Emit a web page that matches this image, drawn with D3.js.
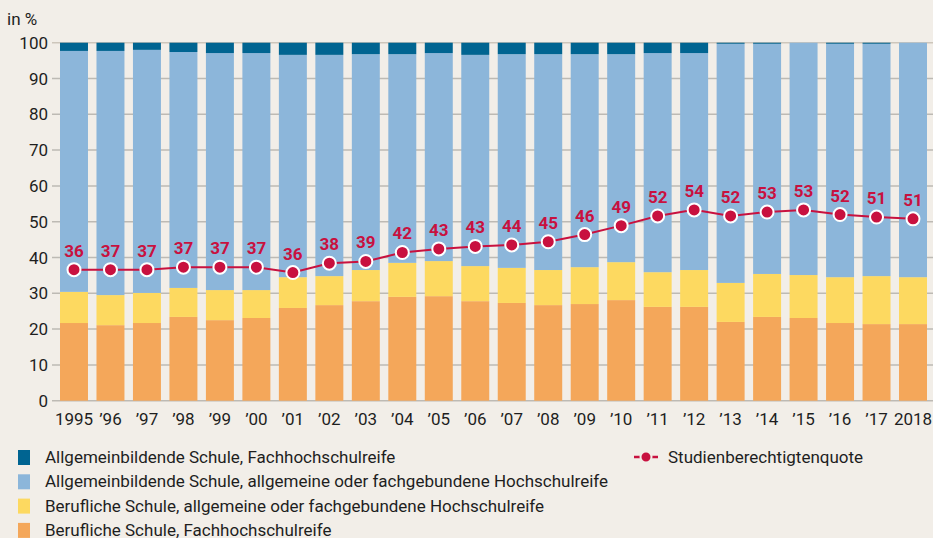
<!DOCTYPE html>
<html>
<head>
<meta charset="utf-8">
<script src="https://cdn.jsdelivr.net/npm/d3@7"></script>
<style>
  html, body { margin: 0; padding: 0; background: #f2eee8; }
  svg { display: block; font-family: Roboto, "Noto Sans", sans-serif; }
</style>
</head>
<body>
<div id="chart"></div>
<script>
// tick labels along the x axis
var years = ["1995", "\u201996", "\u201997", "\u201998", "\u201999", "\u201900", "\u201901", "\u201902",
	"\u201903", "\u201904", "\u201905", "\u201906", "\u201907", "\u201908", "\u201909", "\u201910",
	"\u201911", "\u201912", "\u201913", "\u201914", "\u201915", "\u201916", "\u201917", "2018"];

// shares in %, bottom of the stack first
var berufFhr = [21.7, 21.1, 21.7, 23.4, 22.5, 23.1, 25.9, 26.7, 27.8, 29.0, 29.2, 27.8,
	27.3, 26.7, 27.0, 28.1, 26.2, 26.2, 22.0, 23.4, 23.1, 21.7, 21.4, 21.4];
var berufAhr = [8.7, 8.4, 8.4, 8.1, 8.4, 7.8, 8.6, 8.1, 8.7, 9.5, 9.8, 9.8,
	9.8, 9.8, 10.3, 10.6, 9.7, 10.3, 10.9, 12.0, 12.0, 12.8, 13.4, 13.1];
var allgAhr = [67.3, 68.2, 67.9, 65.9, 66.2, 66.2, 62.1, 61.8, 60.3, 58.3, 58.1, 59.0,
	59.7, 60.3, 59.5, 58.1, 61.2, 60.6, 66.8, 64.3, 64.9, 65.2, 64.9, 65.5];
var allgFhr = [2.3, 2.3, 2.0, 2.6, 2.9, 2.9, 3.4, 3.4, 3.2, 3.2, 2.9, 3.4,
	3.2, 3.2, 3.2, 3.2, 2.9, 2.9, 0.3, 0.3, 0, 0.3, 0.3, 0];

// Studienberechtigtenquote: dot position and printed label
var quote = [36.6, 36.6, 36.6, 37.3, 37.3, 37.3, 35.8, 38.4, 38.9, 41.4, 42.4, 43.1,
	43.5, 44.4, 46.4, 48.9, 51.6, 53.3, 51.6, 52.7, 53.3, 52.0, 51.3, 50.8];
var quoteLabels = [36, 37, 37, 37, 37, 37, 36, 38, 39, 42, 43, 43,
	44, 45, 46, 49, 52, 54, 52, 53, 53, 52, 51, 51];

var yTicks = [0, 10, 20, 30, 40, 50, 60, 70, 80, 90, 100];

var legendNames = [
	"Allgemeinbildende Schule, Fachhochschulreife",
	"Allgemeinbildende Schule, allgemeine oder fachgebundene Hochschulreife",
	"Berufliche Schule, allgemeine oder fachgebundene Hochschulreife",
	"Berufliche Schule, Fachhochschulreife"
];
var lineName = "Studienberechtigtenquote";

var w = 933, h = 538;
var keys = ["berufFhr", "berufAhr", "allgAhr", "allgFhr"];
var colors = {berufFhr: "#f4a75a", berufAhr: "#fdd960", allgAhr: "#8cb6da", allgFhr: "#006491"};
var red = "#c8113f";

var svg = d3.select("#chart").append("svg")
	.attr("width", w)
	.attr("height", h);

svg.append("rect").attr("width", w).attr("height", h).attr("fill", "#f2eee8");

var x = d3.scaleBand().domain(years).range([60, 927]).paddingInner(0.233).paddingOuter(0);
var y = d3.scaleLinear().domain([0, 100]).range([400.7, 42.7]);

// rows for the stack
var rows = years.map(function(yr, i) {
	return {year: yr, berufFhr: berufFhr[i], berufAhr: berufAhr[i], allgAhr: allgAhr[i], allgFhr: allgFhr[i]};
});
var series = d3.stack().keys(keys)(rows);

// grid lines behind the bars
svg.append("g").selectAll("line")
	.data(yTicks)
	.enter().append("line")
	.attr("x1", 52).attr("x2", w)
	.attr("y1", function(d) { return y(d); })
	.attr("y2", function(d) { return y(d); })
	.attr("stroke", function(d) { return d == 100 ? "#cdc6bb" : "#bdbab4"; })
	.attr("stroke-width", 1.5);

// y labels
svg.append("g").selectAll("text")
	.data(yTicks)
	.enter().append("text")
	.attr("x", 48)
	.attr("y", function(d) { return y(d) + 6; })
	.attr("text-anchor", "end")
	.attr("font-size", 17)
	.attr("fill", "#1e1e1e")
	.text(function(d) { return d; });

svg.append("text")
	.attr("x", 7).attr("y", 25)
	.attr("font-size", 17)
	.attr("fill", "#1e1e1e")
	.text("in %");

// stacked bars
svg.append("g").selectAll("g")
	.data(series)
	.enter().append("g")
	.attr("fill", function(d) { return colors[d.key]; })
	.selectAll("rect")
	.data(function(d) { return d; })
	.enter().append("rect")
	.attr("x", function(d) { return x(d.data.year); })
	.attr("width", x.bandwidth())
	.attr("y", function(d) { return y(d[1]); })
	.attr("height", function(d) { return y(d[0]) - y(d[1]); });

// x labels
svg.append("g").selectAll("text")
	.data(years)
	.enter().append("text")
	.attr("x", function(d) { return x(d) + x.bandwidth() / 2; })
	.attr("y", 425)
	.attr("text-anchor", "middle")
	.attr("font-size", 17)
	.attr("fill", "#1e1e1e")
	.text(function(d) { return d; });

// the quote line with dots
var line = d3.line()
	.x(function(d, i) { return x(years[i]) + x.bandwidth() / 2; })
	.y(function(d) { return y(d); });

svg.append("path")
	.datum(quote)
	.attr("d", line)
	.attr("fill", "none")
	.attr("stroke", red)
	.attr("stroke-width", 2);

svg.append("g").selectAll("circle")
	.data(quote)
	.enter().append("circle")
	.attr("cx", function(d, i) { return x(years[i]) + x.bandwidth() / 2; })
	.attr("cy", function(d) { return y(d); })
	.attr("r", 6.5)
	.attr("fill", red)
	.attr("stroke", "#fff")
	.attr("stroke-width", 2);

svg.append("g").selectAll("text")
	.data(quoteLabels)
	.enter().append("text")
	.attr("x", function(d, i) { return x(years[i]) + x.bandwidth() / 2; })
	.attr("y", function(d, i) { return y(quote[i]) - 13; })
	.attr("text-anchor", "middle")
	.attr("font-size", 17)
	.attr("font-weight", "bold")
	.attr("fill", red)
	.text(function(d) { return d; });

// legend, top entry is the top of the stack
var legKeys = keys.slice().reverse();
var leg = svg.append("g").selectAll("g")
	.data(legKeys)
	.enter().append("g")
	.attr("transform", function(d, i) { return "translate(18," + (450 + i * 24.3) + ")"; });

leg.append("rect")
	.attr("width", 12).attr("height", 15)
	.attr("fill", function(d) { return colors[d]; });

leg.append("text")
	.attr("x", 27).attr("y", 13)
	.attr("font-size", 17)
	.attr("fill", "#1e1e1e")
	.text(function(d, i) { return legendNames[i]; });

var lineLeg = svg.append("g").attr("transform", "translate(634,457)");
lineLeg.append("line")
	.attr("x1", 0).attr("x2", 24)
	.attr("stroke", red).attr("stroke-width", 2.5);
lineLeg.append("circle")
	.attr("cx", 12).attr("r", 5.5)
	.attr("fill", red).attr("stroke", "#f2eee8").attr("stroke-width", 2);
lineLeg.append("text")
	.attr("x", 34).attr("y", 6)
	.attr("font-size", 17)
	.attr("fill", "#1e1e1e")
	.text(lineName);
</script>
</body>
</html>
